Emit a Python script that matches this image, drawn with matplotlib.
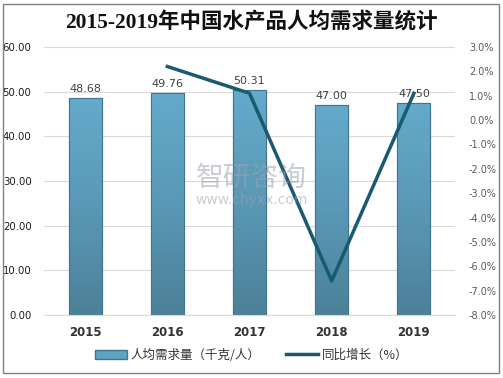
import matplotlib
matplotlib.use("Agg")
import matplotlib.pyplot as plt
import numpy as np
from matplotlib.patches import Rectangle, Patch
from matplotlib.lines import Line2D
from matplotlib.colors import LinearSegmentedColormap

plt.rcParams['font.family'] = ['Noto Sans CJK SC', 'DejaVu Sans']

years = ["2015", "2016", "2017", "2018", "2019"]
demand = [48.68, 49.76, 50.31, 47.00, 47.50]
growth_years = ["2016", "2017", "2018", "2019"]
growth = [2.2, 1.1, -6.6, 1.1]
left_ticks = [0, 10, 20, 30, 40, 50, 60]
right_ticks = [3, 2, 1, 0, -1, -2, -3, -4, -5, -6, -7, -8]

W, H = 503, 378
fig = plt.figure(figsize=(W/100, H/100), dpi=100)
fig.patch.set_facecolor("white")

ax = fig.add_axes([44/W, (H-315)/H, (455-44)/W, (315-47)/H])
x = list(range(len(years)))
bars = ax.bar(x, demand, width=0.4, color="#5fa2c2", edgecolor="#3f7590", linewidth=0.8, zorder=2)
cmap = LinearSegmentedColormap.from_list("g", ["#4c8098", "#5a98b6", "#64aacb"])
grad = np.linspace(0, 1, 256).reshape(-1, 1)
for b in bars:
    x0, w, h = b.get_x(), b.get_width(), b.get_height()
    im = ax.imshow(grad, extent=[x0, x0 + w, 0, h], origin="lower", cmap=cmap, aspect="auto", zorder=2.1)
    im.set_clip_path(b)
    ax.add_patch(Rectangle((x0, 0), w, h, fill=False, edgecolor="#3f7590", linewidth=0.8, zorder=2.2))
for xi, v in zip(x, demand):
    ax.text(xi, v + 0.9, f"{v:.2f}", ha="center", va="bottom", fontsize=8, color="#404040",
            family=['DejaVu Sans'])
ax.set_ylim(0, 60)
ax.set_xlim(-0.5, len(years) - 0.5)
ax.set_yticks(left_ticks)
ax.set_yticklabels([f"{t:.2f}" for t in left_ticks], fontsize=7.3, color="#1a1a1a", family=['DejaVu Sans'])
ax.set_xticks(x)
ax.set_xticklabels(years, fontsize=8.5, fontweight="bold", color="#333333", family=['DejaVu Sans'])
ax.grid(axis="y", color="#d9d9d9", linewidth=0.8, zorder=0)
for s in ax.spines.values():
    s.set_visible(False)
ax.spines["bottom"].set_visible(True)
ax.spines["bottom"].set_color("#d9d9d9")
ax.tick_params(axis="both", length=0)
ax.tick_params(axis="y", pad=9)
ax.tick_params(axis="x", pad=8)

ax2 = ax.twinx()
gx = [years.index(y) for y in growth_years]
ax2.plot(gx, growth, color="#185a70", linewidth=2.5, zorder=3)
ax2.set_ylim(-8, 3)
ax2.set_yticks(right_ticks)
ax2.set_yticklabels([f"{t:.1f}%" for t in right_ticks], fontsize=7, color="#595959", family=['DejaVu Sans'])
ax2.tick_params(axis="y", length=0, pad=10)
for s in ax2.spines.values():
    s.set_visible(False)

fig.text(0.5, 1 - 22/H, "2015-2019年中国水产品人均需求量统计", ha="center", va="center",
         fontsize=15.5, fontweight="bold", color="#111111",
         family=['Liberation Serif', 'Noto Sans CJK SC'])

fig.text(0.5, 1 - 178/H, "智研咨询", ha="center", va="center", fontsize=20, color="#9aa4ae", alpha=0.55)
fig.text(0.5, 1 - 200/H, "www.chyxx.com", ha="center", va="center", fontsize=10, color="#9aa4ae", alpha=0.55,
         family=['DejaVu Sans'])

handles = [Patch(facecolor="#5fa2c2", edgecolor="#3f7590"),
           Line2D([0], [0], color="#185a70", linewidth=2.5)]
fig.legend(handles, ["人均需求量（千克/人）", "同比增长（%）"], loc="center", bbox_to_anchor=(0.5, 1 - 355/H),
           ncol=2, frameon=False, fontsize=9, handlelength=2.6, columnspacing=2.0, handletextpad=0.3,
           labelcolor="#333333")

fig.add_artist(Rectangle((3/W, 1 - 373/H), 496/W, 369/H, transform=fig.transFigure, fill=False,
                         edgecolor="#808080", linewidth=1))

fig.savefig("out.png", dpi=100)
